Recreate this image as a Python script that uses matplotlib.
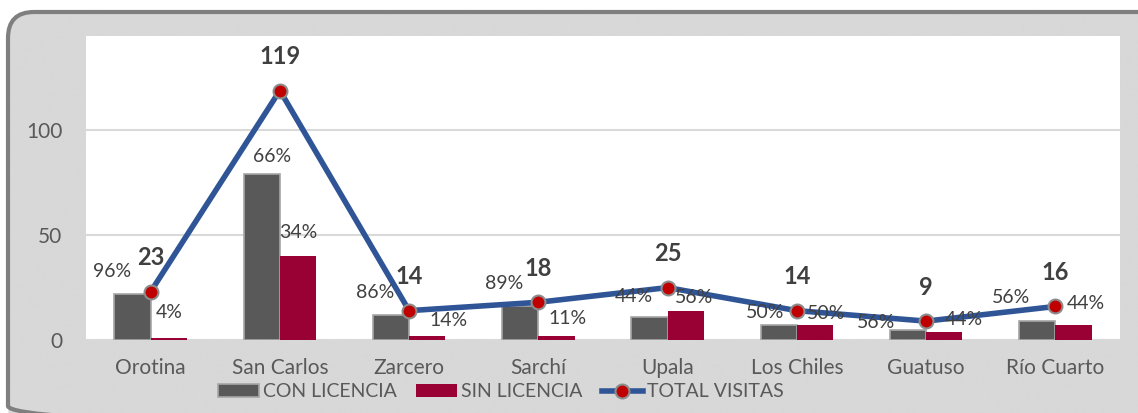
import matplotlib.pyplot as plt
import numpy as np
from matplotlib.patches import FancyBboxPatch, Patch
from matplotlib.lines import Line2D

plt.rcParams['font.family'] = ['Lato', 'DejaVu Sans']

# datos
cantones = ['Orotina', 'San Carlos', 'Zarcero', 'Sarchí', 'Upala',
            'Los Chiles', 'Guatuso', 'Río Cuarto']
con_licencia = [22, 79, 12, 16, 11, 7, 5, 9]
sin_licencia = [1, 40, 2, 2, 14, 7, 4, 7]
total_visitas = [23, 119, 14, 18, 25, 14, 9, 16]
pct_con = ['96%', '66%', '86%', '89%', '44%', '50%', '56%', '56%']
pct_sin = ['4%', '34%', '14%', '11%', '56%', '50%', '44%', '44%']

# label nudges (pixels) as in the original sheet
off_con = [(-20, 22), (10, 18), (-16, 22), (-16, 23), (-16, 20), (-14, 13), (-32, 7), (-26, 24)]
off_sin = [(0, 25), (0, 24), (21, 15), (11, 17), (8, 13), (11, 12), (20, 12), (12, 22)]

W, H = 1138, 413
fig = plt.figure(figsize=(W / 100, H / 100), dpi=100, facecolor='white')

# chart frame with vertical gradient
bg = fig.add_axes([0, 0, 1, 1], zorder=-10)
bg.set_xlim(0, W)
bg.set_ylim(H, 0)
bg.axis('off')
rows = np.arange(H + 1)
g = np.interp(rows, [12, 120, 300, 338, 358, 395, 413],
              [0xd8, 0xe2, 0xee, 0xdc, 0xc3, 0xd6, 0xee]) / 255
img = np.repeat(np.dstack([g, g, g])[:, :1, :].reshape(-1, 1, 3), 2, axis=1)
frame = FancyBboxPatch((8, 12), 1160, 420, boxstyle='round,pad=0,rounding_size=26',
                       facecolor='none', edgecolor='#7f7f7f', lw=3)
im = bg.imshow(img, extent=(0, W, H, 0), aspect='auto', interpolation='bilinear')
bg.add_patch(frame)
im.set_clip_path(frame)

ax = fig.add_axes([86 / W, 1 - 340 / H, (1120 - 86) / W, (340 - 36) / H])
ax.set_facecolor('white')
x = np.arange(len(cantones))
w = 0.28

ax.bar(x - w / 2, con_licencia, w, color='#595959', edgecolor='#a6a6a6', lw=1.2, zorder=2)
ax.bar(x + w / 2, sin_licencia, w, color='#990033', zorder=2)
ax.plot(x, total_visitas, color='#2F5597', lw=4, marker='o', ms=10,
        mfc='#C00000', mec='#8c8c8c', mew=1.5, zorder=4)

for i in range(len(cantones)):
    ax.annotate(pct_con[i], (x[i] - w / 2, con_licencia[i]), xytext=off_con[i],
                textcoords='offset pixels', ha='center', va='center',
                fontsize=14, color='#404040', zorder=5)
    ax.annotate(pct_sin[i], (x[i] + w / 2, sin_licencia[i]), xytext=off_sin[i],
                textcoords='offset pixels', ha='center', va='center',
                fontsize=14, color='#404040', zorder=5)
    ax.annotate(str(total_visitas[i]), (x[i], total_visitas[i]), xytext=(0, 34),
                textcoords='offset pixels', ha='center', va='center',
                fontsize=17, fontweight='bold', color='#404040', zorder=5)

ax.set_xlim(-0.5, 7.5)
ax.set_ylim(0, 145)
ax.set_yticks([0, 50, 100])
ax.set_xticks(x)
ax.set_xticklabels(cantones)
ax.yaxis.grid(True, color='#d9d9d9', lw=1.5)
ax.set_axisbelow(True)
for s in ax.spines.values():
    s.set_visible(False)
ax.tick_params(axis='both', length=0, labelsize=15, colors='#595959')
ax.tick_params(axis='y', pad=17)
ax.tick_params(axis='x', pad=13)

handles = [Patch(facecolor='#595959', edgecolor='#a6a6a6', lw=1.2),
           Patch(facecolor='#990033'),
           Line2D([], [], color='#2F5597', lw=4, marker='o', ms=10,
                  mfc='#C00000', mec='#8c8c8c', mew=1.5)]
fig.legend(handles, ['CON LICENCIA', 'SIN LICENCIA', 'TOTAL VISITAS'],
           loc='center', bbox_to_anchor=(0.44, 0.051), ncol=3, frameon=False,
           fontsize=14, handlelength=2.1, handleheight=0.7, handletextpad=0.2,
           columnspacing=1.0, labelcolor='#595959')

fig.savefig('out.png', dpi=100)
